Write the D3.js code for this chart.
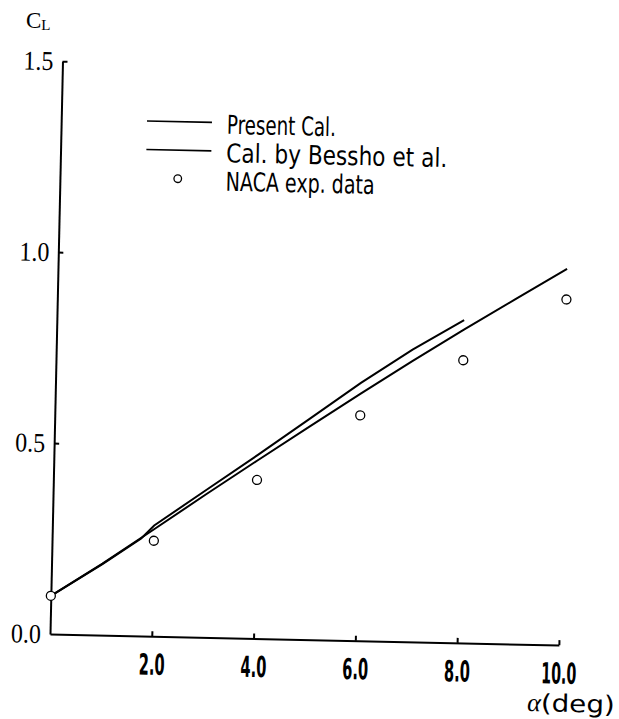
<!DOCTYPE html>
<html>
<head>
<meta charset="utf-8">
<script src="https://cdn.jsdelivr.net/npm/d3@7"></script>
<style>
  body { margin: 0; background: #fff; }
  svg { display: block; }
  .axis path, .axis line { stroke: #000; stroke-width: 2px; }
  .curve { fill: none; stroke: #000; stroke-width: 2px; }
  .exp { fill: #fff; stroke: #000; stroke-width: 1.3px; }
</style>
</head>
<body>
<script>
// --- data ---
const alphaPresent = [0, 1, 2, 3, 4, 5, 6, 7, 8, 9, 10];
const clPresent    = [0.10, 0.187, 0.28, 0.374, 0.466, 0.557, 0.647, 0.735, 0.82, 0.903, 0.985];

const alphaBessho = [0, 1, 1.75, 2, 3, 4, 5, 6, 7, 8];
const clBessho    = [0.10, 0.186, 0.255, 0.29, 0.385, 0.48, 0.577, 0.675, 0.765, 0.845];

const alphaNaca = [0, 2, 4, 6, 8, 10];
const clNaca    = [0.10, 0.25, 0.415, 0.59, 0.74, 0.905];

const xTicks = [2, 4, 6, 8, 10];
const yTicks = [0, 0.5, 1.0, 1.5];

const legendLabels = ['Present Cal.', 'Cal. by Bessho et al.', 'NACA exp. data'];

// --- layout ---
const width = 619, height = 719;
const origin = [50, 634];
const tilt = 1.25; // the scanned page is slightly rotated

const svg = d3.select('body').append('svg')
  .attr('width', width)
  .attr('height', height);

const x = d3.scaleLinear().domain([0, 10]).range([origin[0], 559]);
const y = d3.scaleLinear().domain([0, 1.5]).range([origin[1], 61]);

const plot = svg.append('g')
  .attr('transform', `rotate(${tilt},${origin[0]},${origin[1]})`);

// y axis, ticks pointing inward
const yAxis = plot.append('g')
  .attr('class', 'axis')
  .attr('transform', `translate(${origin[0]},0)`)
  .call(d3.axisLeft(y).tickValues(yTicks).tickSize(-5).tickSizeOuter(0)
    .tickPadding(9).tickFormat(d3.format('.1f')));
yAxis.selectAll('text')
  .attr('font-family', '"Liberation Serif", serif')
  .attr('font-size', 27)
  .attr('fill', '#000')
  .attr('textLength', 30)
  .attr('lengthAdjust', 'spacingAndGlyphs');
yAxis.selectAll('.tick').filter(d => d === 0).select('line').remove();

// x axis
const xAxis = plot.append('g')
  .attr('class', 'axis')
  .attr('transform', `translate(0,${origin[1]})`)
  .call(d3.axisBottom(x).tickValues(xTicks).tickSize(-5).tickSizeOuter(0)
    .tickPadding(18).tickFormat(d3.format('.1f')));
xAxis.selectAll('text')
  .attr('font-family', '"DejaVu Sans", sans-serif')
  .attr('font-weight', 'bold')
  .attr('font-size', 29)
  .attr('fill', '#000')
  .attr('textLength', d => d >= 10 ? 35 : 26)
  .attr('lengthAdjust', 'spacingAndGlyphs');
plot.selectAll('.axis .domain').attr('fill', 'none');

// curves
const line = d3.line()
  .x(d => x(d[0]))
  .y(d => y(d[1]));

plot.append('path')
  .attr('class', 'curve')
  .attr('d', line(d3.zip(alphaPresent, clPresent)));

plot.append('path')
  .attr('class', 'curve')
  .attr('d', line(d3.zip(alphaBessho, clBessho)));

// experimental points
plot.selectAll('circle.exp')
  .data(d3.zip(alphaNaca, clNaca))
  .join('circle')
  .attr('class', 'exp')
  .attr('cx', d => x(d[0]))
  .attr('cy', d => y(d[1]))
  .attr('r', 4.5);

// legend
const legend = svg.append('g')
  .attr('transform', `translate(147,121) rotate(${tilt})`);
const legendWidths = [109, 221, 149];
const rowGap = 28.5;

legendLabels.forEach((label, i) => {
  const row = legend.append('g').attr('transform', `translate(0,${i * rowGap})`);
  if (i < 2) {
    row.append('line')
      .attr('x1', 0).attr('x2', 65)
      .attr('stroke', '#000').attr('stroke-width', 1.6);
  } else {
    row.append('circle')
      .attr('class', 'exp')
      .attr('cx', 32).attr('cy', 0).attr('r', 3.8);
  }
  row.append('text')
    .attr('x', 80)
    .attr('y', 11)
    .attr('font-family', '"DejaVu Sans", sans-serif')
    .attr('font-size', 26)
    .attr('textLength', legendWidths[i])
    .attr('lengthAdjust', 'spacingAndGlyphs')
    .text(label);
});

// axis titles
const cl = svg.append('text')
  .attr('x', 26).attr('y', 28)
  .attr('font-family', '"Liberation Serif", serif')
  .attr('font-size', 23);
cl.append('tspan').text('C');
cl.append('tspan').attr('font-size', 15).attr('dy', 2).text('L');

const at = svg.append('text')
  .attr('transform', `translate(527,711) rotate(${tilt})`)
  .attr('font-size', 26);
at.append('tspan')
  .attr('font-family', '"Liberation Serif", serif')
  .attr('font-style', 'italic')
  .text('α');
at.append('tspan')
  .attr('font-family', '"DejaVu Sans", sans-serif')
  .attr('font-size', 24)
  .attr('textLength', 74)
  .attr('lengthAdjust', 'spacingAndGlyphs')
  .text('(deg)');
</script>
</body>
</html>
